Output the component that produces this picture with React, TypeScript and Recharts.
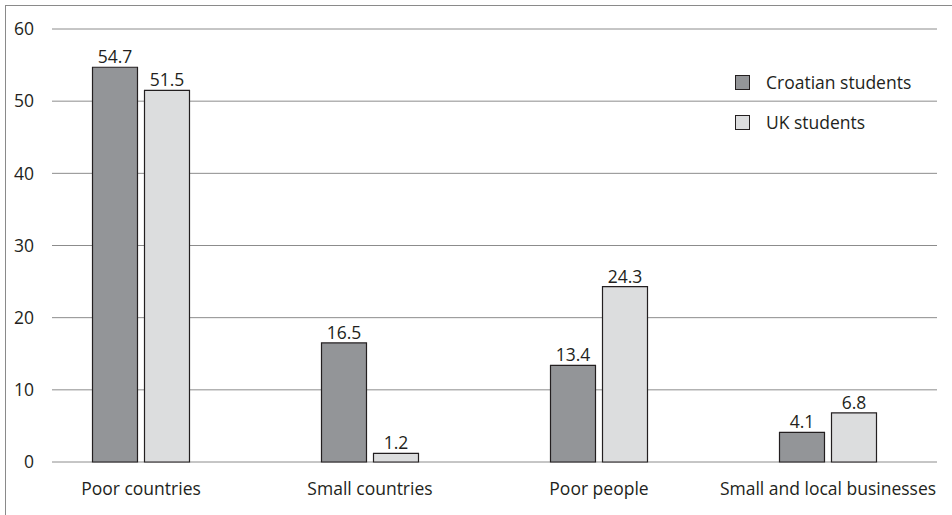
import { BarChart, Bar, XAxis, YAxis, CartesianGrid, LabelList } from 'recharts'

const categories = ['Poor countries', 'Small countries', 'Poor people', 'Small and local businesses']
const croatian = [54.7, 16.5, 13.4, 4.1]
const uk = [51.5, 1.2, 24.3, 6.8]
const yTicks = [0, 10, 20, 30, 40, 50, 60]
const seriesNames = ['Croatian students', 'UK students']

const data = categories.map((name, i) => ({ name, croatian: croatian[i], uk: uk[i] }))

const FONT = '"Open Sans", sans-serif'
const FS = 17.5
const TEXT = '#231f20'
const DARK = '#939598'
const LIGHT = '#dcddde'

function LegendBox() {
  const fills = [DARK, LIGHT]
  return (
    <div
      style={{
        position: 'absolute',
        left: 735,
        top: 62,
        fontFamily: FONT,
        fontSize: FS,
        color: TEXT,
      }}
    >
      {seriesNames.map((label, i) => (
        <div key={label} style={{ display: 'flex', alignItems: 'center', height: 40 }}>
          <span
            style={{
              display: 'inline-block',
              width: 13,
              height: 13,
              background: fills[i],
              border: `1px solid ${TEXT}`,
              marginRight: 16,
            }}
          />
          {label}
        </div>
      ))}
    </div>
  )
}

export default function App() {
  return (
    <div
      style={{
        position: 'absolute',
        left: 0,
        top: 0,
        width: 952,
        height: 515,
        background: '#fff',
        overflow: 'hidden',
      }}
    >
      <div
        style={{
          position: 'absolute',
          left: 5,
          top: 5,
          width: 960,
          height: 520,
          borderTop: '1.5px solid #8a8a8a',
          borderLeft: '1.5px solid #8a8a8a',
        }}
      />
      <BarChart
        width={952}
        height={515}
        data={data}
        margin={{ top: 29, right: 15, bottom: 0, left: 0 }}
        barSize={45}
        barGap={7}
        style={{ position: 'absolute', left: 0, top: 0 }}
      >
        <CartesianGrid vertical={false} stroke="#8c8c8c" strokeWidth={1} />
        <XAxis
          dataKey="name"
          axisLine={false}
          tickLine={false}
          height={53}
          tickMargin={15}
          padding={{ left: -25.5, right: -5.5 }}
          interval={0}
          tick={{ fill: TEXT, fontSize: FS, fontFamily: FONT }}
        />
        <YAxis
          domain={[0, 60]}
          ticks={yTicks}
          width={52}
          axisLine={false}
          tickLine={false}
          tickMargin={12}
          tick={{ fill: TEXT, fontSize: FS, fontFamily: FONT }}
        />
        <Bar dataKey="croatian" name={seriesNames[0]} fill={DARK} stroke={TEXT} strokeWidth={1.2} isAnimationActive={false}>
          <LabelList dataKey="croatian" position="top" offset={4} fill={TEXT} fontSize={FS} fontFamily={FONT} />
        </Bar>
        <Bar dataKey="uk" name={seriesNames[1]} fill={LIGHT} stroke={TEXT} strokeWidth={1.2} isAnimationActive={false}>
          <LabelList dataKey="uk" position="top" offset={4} fill={TEXT} fontSize={FS} fontFamily={FONT} />
        </Bar>
      </BarChart>
      <LegendBox />
    </div>
  )
}
